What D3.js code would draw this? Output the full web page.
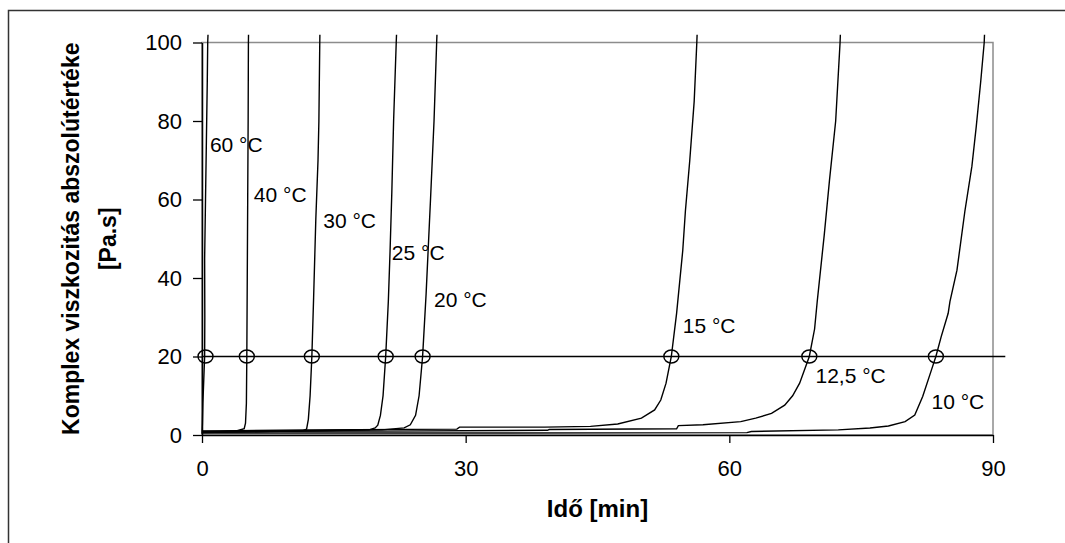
<!DOCTYPE html>
<html>
<head>
<meta charset="utf-8">
<script src="https://d3js.org/d3.v7.min.js"></script>
<style>
  body { margin: 0; background: white; }
  text { font-family: Arial, "Liberation Sans", sans-serif; fill: black; }
</style>
</head>
<body>
<svg width="1065" height="543" id="MainSVG"></svg>
<script>
// viscosity curves, time [min] vs |eta*| [Pa.s]
var c60 = [[0,0.3],[0.05,3],[0.1,8],[0.2,14],[0.3,20],[0.32,30],[0.3,45],[0.4,60],[0.5,75],[0.6,90],[0.65,100],[0.7,103]];
var c40 = [[0,1.0],[2,1.0],[4,1.1],[4.8,1.6],[4.95,3],[5.05,8],[5.1,20],[5.15,40],[5.2,60],[5.25,80],[5.28,100],[5.3,103]];
var c30 = [[0,0.8],[6,0.9],[11.5,1.1],[11.9,1.5],[12.1,4],[12.3,10],[12.5,20],[12.7,35],[12.95,55],[13.2,70],[13.3,80],[13.4,100],[13.42,103]];
var c25 = [[0,0.7],[10,1.0],[19,1.3],[19.7,1.8],[20.0,2.5],[20.3,5],[20.6,10],[20.9,20],[21.2,34],[21.4,47],[21.6,62],[21.8,80],[22.1,100],[22.15,103]];
var c20 = [[0,0.6],[12,1.1],[20.5,1.3],[23,1.8],[23.7,2.6],[24.3,5],[24.7,10],[25.1,20],[25.5,36],[26.0,60],[26.4,80],[26.7,100],[26.75,103]];
var c15 = [[0,1.0],[12,1.3],[29,1.5],[29.3,2.0],[39,2.0],[44.2,2.2],[47.3,2.8],[50.0,4.3],[51.5,6.4],[52.2,8.9],[52.8,13.2],[53.4,20],[54.0,31],[54.7,47],[55.0,57],[55.5,70],[56.0,85],[56.3,100],[56.35,103]];
var c125 = [[0,0.9],[20,1.0],[39.3,1.2],[39.5,1.4],[54,1.6],[54.2,2.4],[57,2.6],[61.3,3.4],[63,4.3],[64.8,5.5],[66.3,7.6],[67.2,10],[68.0,13.2],[69.1,20],[69.7,27],[70.0,34],[70.8,51],[71.4,65],[72.1,80],[72.6,100],[72.65,103]];
var c10 = [[0,0.5],[30,0.5],[62,0.6],[62.5,0.9],[72.4,1.3],[76,1.8],[78.1,2.3],[80,3.4],[81.1,5.1],[82.0,9.8],[83.0,16.6],[83.5,20],[84.1,25],[84.9,31],[85.1,34],[85.9,42],[86.8,57],[87.6,68.5],[88.1,78.7],[88.6,90],[89.0,100],[89.05,103]];

var curves = [c60, c40, c30, c25, c20, c15, c125, c10];
var curveNames = ["60 °C", "40 °C", "30 °C", "25 °C", "20 °C", "15 °C", "12,5 °C", "10 °C"];
// where each label sits, in data units (t, value)
var labelAt = [[0.9,72],[5.9,59.3],[13.8,52.7],[21.6,44.5],[26.4,32.7],[54.7,25.9],[69.8,13.3],[83.0,6.7]];

// gel point reference: level 20 Pa.s and the crossing times
var refLevel = 20;
var refEnd = 91.4;
var crossTimes = [0.4, 5.1, 12.5, 20.9, 25.1, 53.4, 69.1, 83.5];

var xTicks = [0, 30, 60, 90];
var yTicks = [0, 20, 40, 60, 80, 100];

var svg = d3.select("#MainSVG");

// outer chart frame (right and bottom edges are off the picture)
svg.append("path")
  .attr("d", "M8.5 543 L8.5 10.5 L1065 10.5")
  .attr("fill", "none")
  .attr("stroke", "#333")
  .attr("stroke-width", 1.5);

var xs = d3.scaleLinear().domain([0, 90]).range([202, 993]);
var ys = d3.scaleLinear().domain([0, 100]).range([435, 42.5]);

// plot area border
svg.append("rect")
  .attr("x", xs(0))
  .attr("y", ys(100))
  .attr("width", xs(90) - xs(0))
  .attr("height", ys(0) - ys(100))
  .attr("fill", "none")
  .attr("stroke", "#8c8c8c")
  .attr("stroke-width", 1.5);

svg.append("clipPath").attr("id", "clip")
  .append("rect")
  .attr("x", 0).attr("y", ys(102))
  .attr("width", 1065).attr("height", ys(0) - ys(102) + 1);

var line = d3.line()
  .x(function(d) { return xs(d[0]); })
  .y(function(d) { return ys(d[1]); });

var g = svg.append("g").attr("clip-path", "url(#clip)");

g.selectAll(".curve")
  .data(curves)
  .enter().append("path")
  .attr("class", "curve")
  .attr("d", line)
  .attr("fill", "none")
  .attr("stroke", "black")
  .attr("stroke-width", 1.4);

// 20 Pa.s line
svg.append("line")
  .attr("x1", xs(0)).attr("y1", ys(refLevel))
  .attr("x2", xs(refEnd)).attr("y2", ys(refLevel))
  .attr("stroke", "black")
  .attr("stroke-width", 1.4);

svg.selectAll(".cross")
  .data(crossTimes)
  .enter().append("ellipse")
  .attr("class", "cross")
  .attr("cx", function(d) { return xs(d); })
  .attr("cy", ys(refLevel))
  .attr("rx", 7.5)
  .attr("ry", 6.5)
  .attr("fill", "none")
  .attr("stroke", "black")
  .attr("stroke-width", 1.4);

// axes
var yAxis = svg.append("g")
  .attr("transform", "translate(" + xs(0) + ",0)")
  .call(d3.axisLeft(ys).tickValues(yTicks).tickSize(9).tickSizeOuter(0).tickPadding(11));

var xAxis = svg.append("g")
  .attr("transform", "translate(0," + ys(0) + ")")
  .call(d3.axisBottom(xs).tickValues(xTicks).tickSize(8).tickSizeOuter(0).tickPadding(17));

[yAxis, xAxis].forEach(function(a) {
  a.select(".domain").attr("stroke", "black").attr("stroke-width", 1.5);
  a.selectAll(".tick line").attr("stroke", "black").attr("stroke-width", 1.3);
  a.selectAll(".tick text")
    .attr("font-family", "Arial, 'Liberation Sans', sans-serif")
    .attr("font-size", "22px")
    .attr("fill", "black");
});

// curve labels
svg.selectAll(".lab")
  .data(curveNames)
  .enter().append("text")
  .attr("class", "lab")
  .attr("x", function(d, i) { return xs(labelAt[i][0]); })
  .attr("y", function(d, i) { return ys(labelAt[i][1]); })
  .attr("font-size", "21px")
  .text(function(d) { return d; });

// axis titles
svg.append("text")
  .attr("x", (xs(0) + xs(90)) / 2)
  .attr("y", 516.5)
  .attr("text-anchor", "middle")
  .attr("font-size", "24px")
  .attr("font-weight", "bold")
  .text("Idő [min]");

var yt = svg.append("text")
  .attr("transform", "translate(78.5," + (ys(0) + ys(100)) / 2 + ") rotate(-90)")
  .attr("text-anchor", "middle")
  .attr("font-size", "23px")
  .attr("font-weight", "bold");
yt.append("tspan").attr("x", 0).attr("y", 0).text("Komplex viszkozitás abszolútértéke");
yt.append("tspan").attr("x", 0).attr("y", 37).text("[Pa.s]");
</script>
</body>
</html>
